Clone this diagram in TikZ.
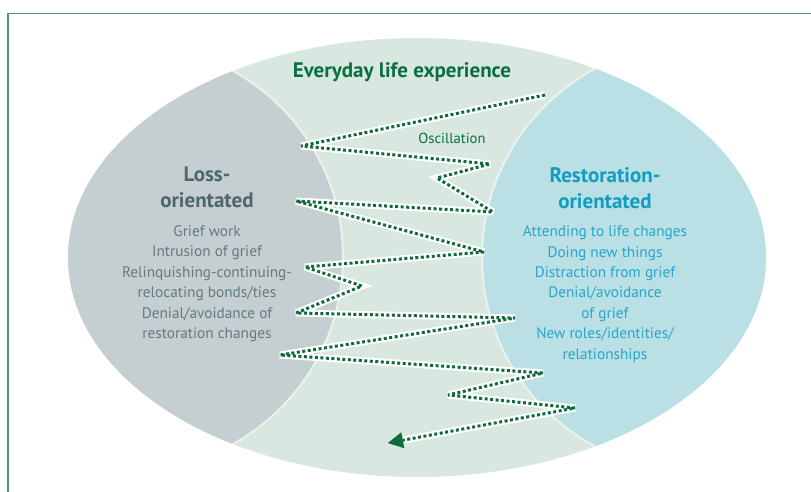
\documentclass[tikz,border=0pt]{standalone}
\usepackage{fontspec}
\setmainfont{PT Sans}
\usepackage{tikz}
\usetikzlibrary{arrows.meta, positioning}

\definecolor{lossgray}{HTML}{C5CED0}
\definecolor{lifegreen}{HTML}{D8E8E0}
\definecolor{restblue}{HTML}{BADFE4}
\definecolor{titlegreen}{HTML}{0B7040}
\definecolor{losshead}{HTML}{4D6670}
\definecolor{losstext}{HTML}{637A83}
\definecolor{resthead}{HTML}{119CC2}
\definecolor{resttext}{HTML}{27A7CB}
\definecolor{framegreen}{HTML}{4A9A70}
\definecolor{dashgreen}{HTML}{0F6B3A}
\definecolor{rimwhite}{HTML}{EAF2ED}

\begin{document}
\begin{tikzpicture}[x=1pt, y=-1pt,
  node distance = 17pt,
  heading/.style = {align=center, font=\fontsize{21}{26}\selectfont\bfseries, inner sep=0pt},
  items/.style = {align=center, font=\fontsize{15.3}{20.4}\selectfont, inner sep=0pt},
  band/.style = {draw=white, line width=7pt, line join=miter, miter limit=3},
  osc/.style = {draw=dashgreen, line width=3pt, dash pattern=on 3pt off 2.5pt, line join=miter, miter limit=3}
  ]
 \useasboundingbox (0,0) rectangle (811,492);
 % Frame
 \draw[framegreen, line width=1.3pt] (8,492) -- (8,13.5) -- (811,13.5);
 % Everyday life ellipse
 \fill[lifegreen] (417,257.5) ellipse [x radius=349, y radius=219.5];
 \begin{scope}
  \clip (417,257.5) ellipse [x radius=349, y radius=219.5];
  \fill[lossgray] (130,257.5) circle [radius=213];
  \fill[restblue] (696,257.5) circle [radius=214];
  \draw[rimwhite, line width=2pt] (130,257.5) circle [radius=213];
  \draw[rimwhite, line width=2pt] (696,257.5) circle [radius=214];
 \end{scope}
 % Headings
 \node[heading, text=titlegreen] (life) at (402,72) {Everyday life experience};
 \node[font=\fontsize{14.6}{16}\selectfont, text=titlegreen] (osc) at (452,138) {Oscillation};
 % Loss side
 \node[heading, text=losshead, anchor=north] (loss) at (207,167) {Loss-\\orientated};
 \node[items, text=losstext, below=of loss] (losslist)
  {Grief work\\
  Intrusion of grief\\
  Relinquishing-continuing-\\
  relocating bonds/ties\\
  Denial/avoidance of\\
  restoration changes};
 % Restoration side
 \node[heading, text=resthead, anchor=north] (rest) at (605,167) {Restoration-\\orientated};
 \node[items, text=resttext, below=of rest] (restlist)
  {Attending to life changes\\
  Doing new things\\
  Distraction from grief\\
  Denial/avoidance\\
  of grief\\
  New roles/identities/\\
  relationships};
 % Oscillation path
 \coordinate (o0) at (545,95);
 \coordinate (o1) at (301,146);
 \coordinate (o2) at (490,164);
 \coordinate (o3) at (437,178);
 \coordinate (o4) at (493,212);
 \coordinate (o5) at (296,201);
 \coordinate (o6) at (484,252);
 \coordinate (o7) at (305,267);
 \coordinate (o8) at (362,286);
 \coordinate (o9) at (296,313);
 \coordinate (o10) at (515,318);
 \coordinate (o11) at (280,355);
 \coordinate (o12) at (543,373);
 \coordinate (o13) at (448,395);
 \coordinate (o14) at (575,408);
 \coordinate (o15) at (388,443);
 \draw[band, shorten >=12pt] (o0) -- (o1) -- (o2) -- (o3) -- (o4) -- (o5) -- (o6) -- (o7)
  -- (o8) -- (o9) -- (o10) -- (o11) -- (o12) -- (o13) -- (o14) -- (o15);
 \draw[osc, -{Triangle[length=15pt, width=16pt, line width=0.1pt]}] (o0) -- (o1) -- (o2) -- (o3) -- (o4) -- (o5) -- (o6) -- (o7)
  -- (o8) -- (o9) -- (o10) -- (o11) -- (o12) -- (o13) -- (o14) -- (o15);
\end{tikzpicture}
\end{document}
